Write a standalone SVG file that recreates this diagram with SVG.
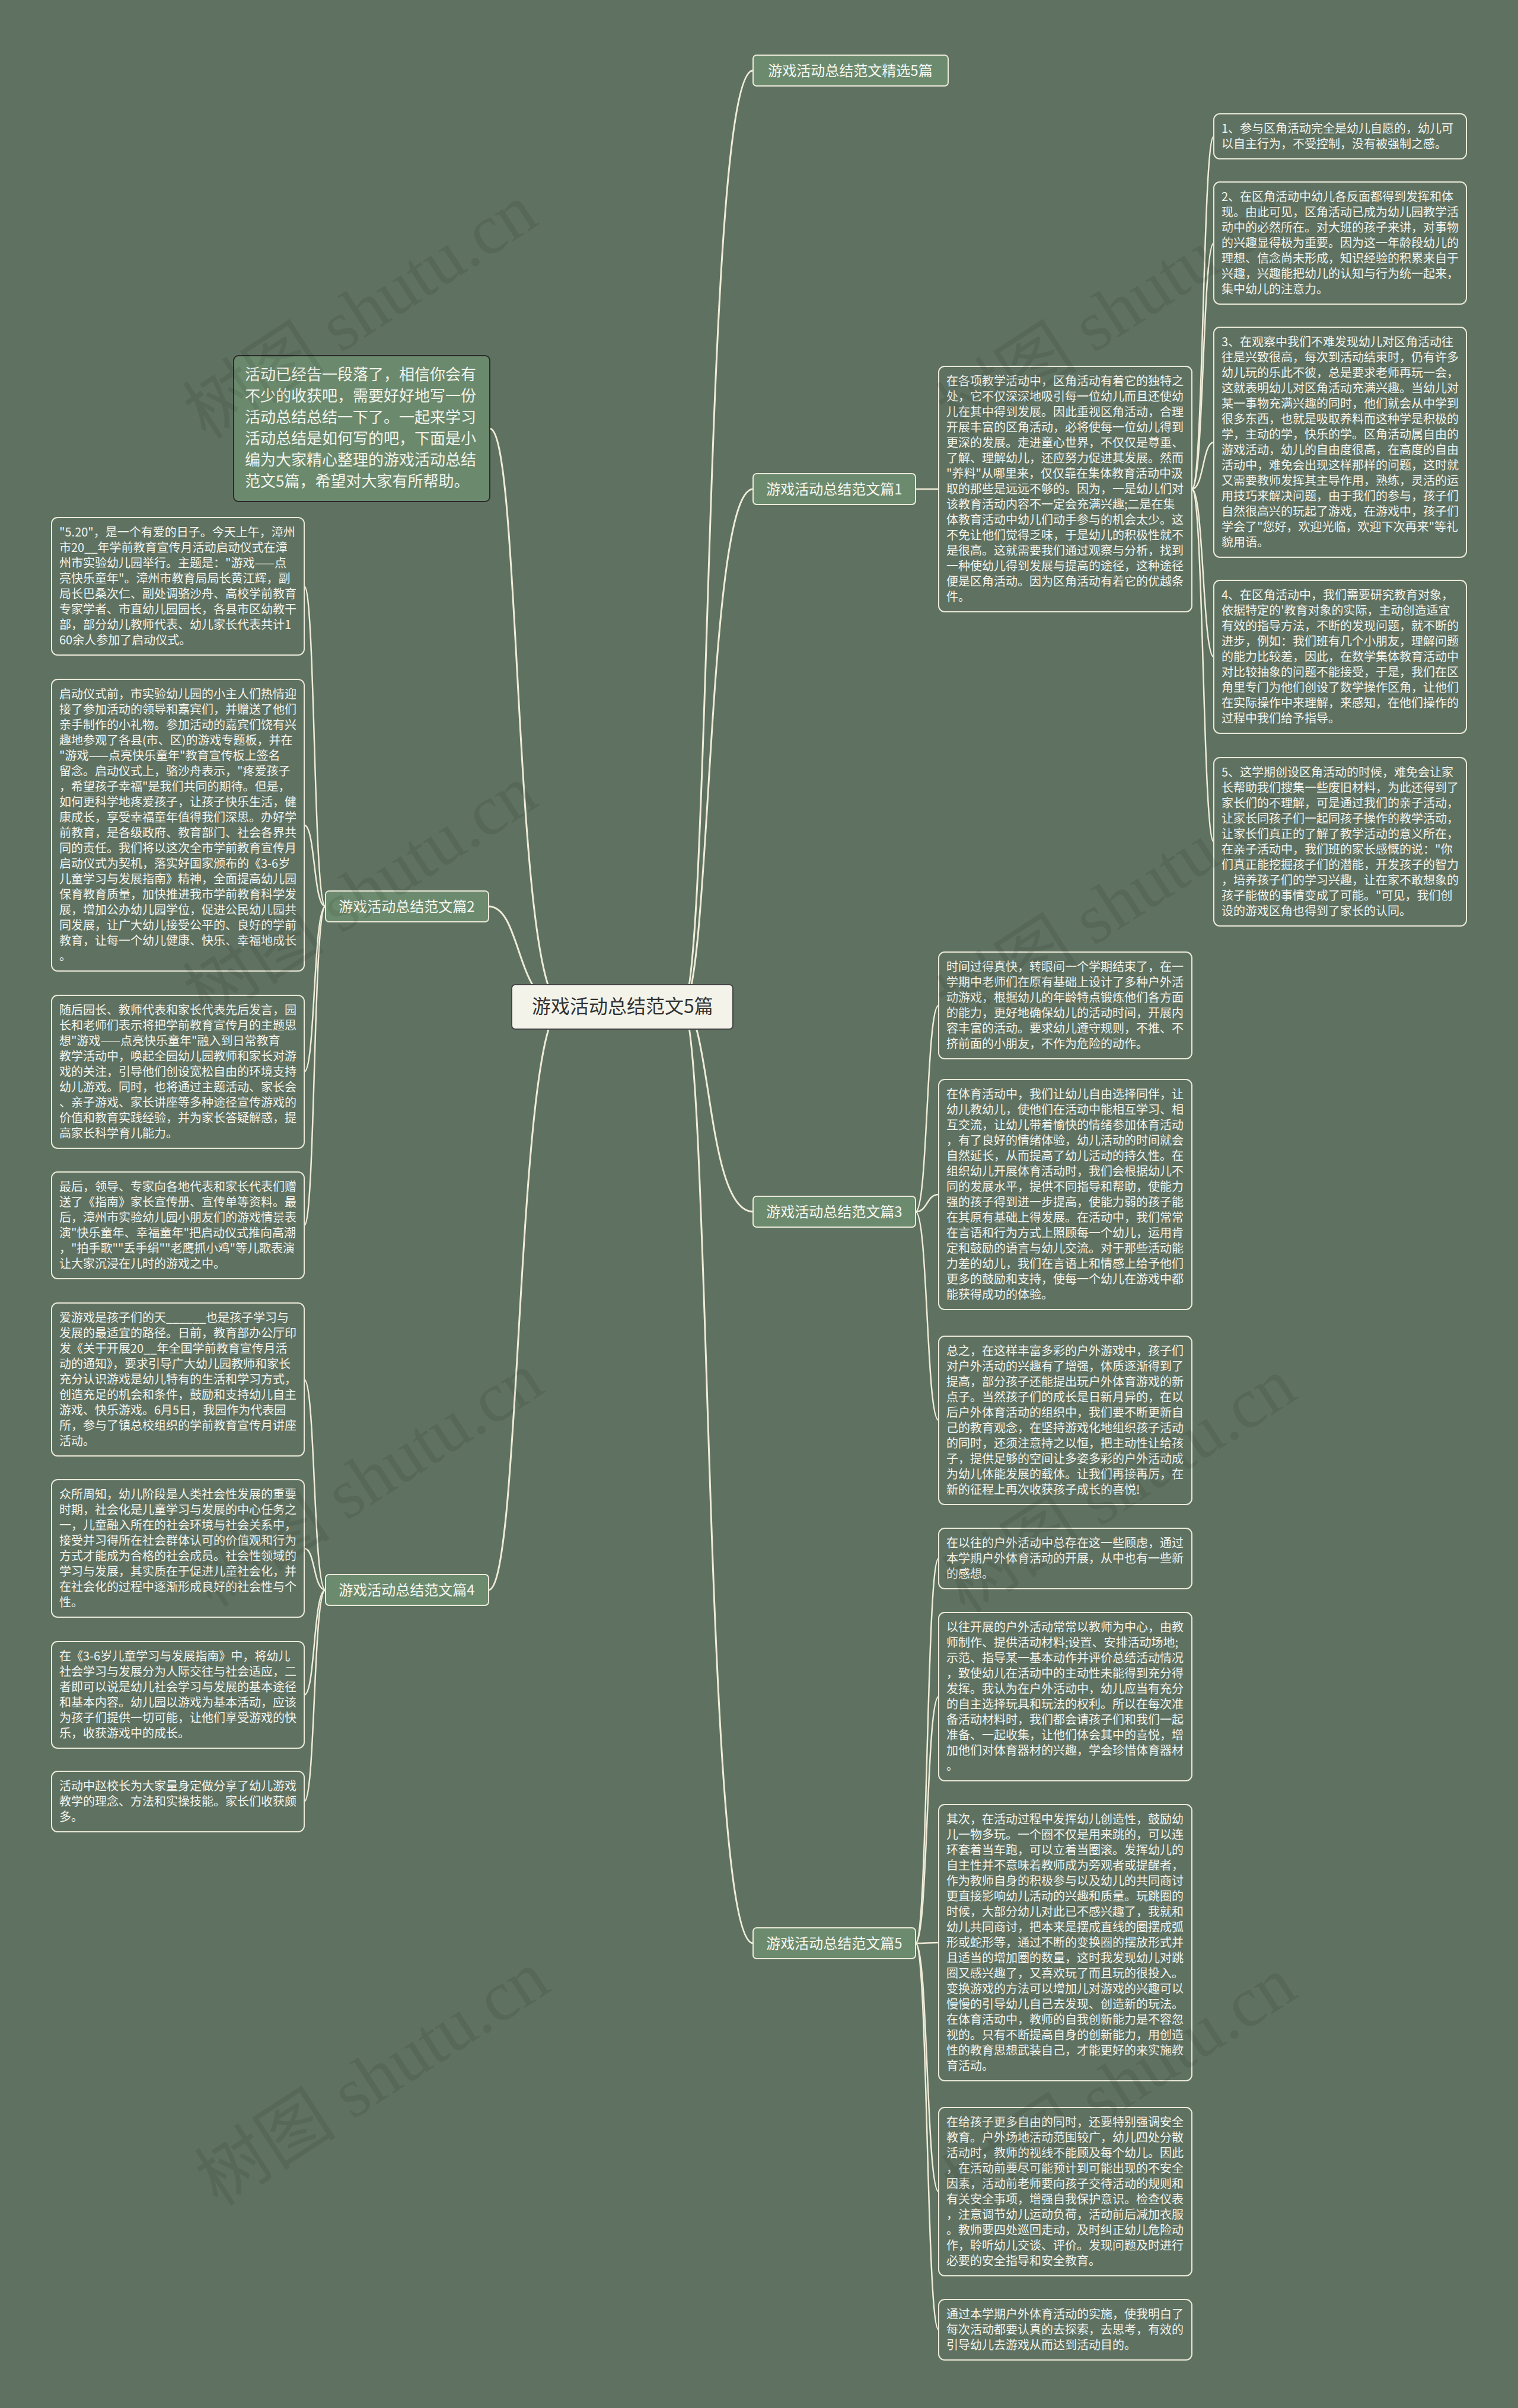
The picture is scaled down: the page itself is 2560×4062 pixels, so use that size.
<svg xmlns="http://www.w3.org/2000/svg" width="2560" height="4062" viewBox="0 0 2560 4062">
<style>
.leaf{fill:#5f7262;stroke:#ebe9d8;stroke-width:2}
.lt{font-family:'Noto Sans CJK SC','Noto Sans',sans-serif;font-size:20px;fill:#f3f3ec}
.br{fill:#6c8b6e;stroke:#ebe9d8;stroke-width:2}
.bt{font-family:'Noto Sans CJK SC','Noto Sans',sans-serif;font-size:24px;fill:#f6f6f0;text-anchor:middle}
.conn{fill:none;stroke:#efebd7;stroke-width:3;stroke-linecap:round}
.sub{fill:none;stroke:#efebd7;stroke-width:2.5;stroke-linecap:round}
.wm{font-family:'Liberation Serif','Noto Sans CJK SC',serif;font-size:120px;fill:#000;opacity:0.08}
</style>
<rect x="0" y="0" width="2560" height="4062" fill="#5f7262"/>

<g id="connectors">
<path class="conn" d="M1150,1698 C1200,1698 1185,119 1270,119"/>
<path class="conn" d="M1150,1698 C1200,1698 1190,825 1270,825"/>
<path class="conn" d="M1150,1698 C1200,1698 1190,2044 1270,2044"/>
<path class="conn" d="M1150,1698 C1200,1698 1185,3278 1270,3278"/>
<path class="conn" d="M950,1698 C865,1698 880,723 826,723"/>
<path class="conn" d="M950,1698 C870,1698 880,1529 824,1529"/>
<path class="conn" d="M950,1698 C870,1698 880,2682 824,2682"/>
<path class="sub" d="M1544,825 L1583,825"/>
<path class="sub" d="M2010,825 C2030,825 2028,230 2047,230"/>
<path class="sub" d="M2010,825 C2030,825 2028,410 2047,410"/>
<path class="sub" d="M2010,825 C2030,825 2028,746 2047,746"/>
<path class="sub" d="M2010,825 C2030,825 2028,1108 2047,1108"/>
<path class="sub" d="M2010,825 C2030,825 2028,1420 2047,1420"/>
<path class="sub" d="M1544,2044 C1565,2044 1562,1696 1583,1696"/>
<path class="sub" d="M1544,2044 C1565,2044 1562,2015 1583,2015"/>
<path class="sub" d="M1544,2044 C1565,2044 1562,2396 1583,2396"/>
<path class="sub" d="M1544,3278 C1565,3278 1562,2629 1583,2629"/>
<path class="sub" d="M1544,3278 C1565,3278 1562,2862 1583,2862"/>
<path class="sub" d="M1544,3278 C1565,3278 1562,3277 1583,3277"/>
<path class="sub" d="M1544,3278 C1565,3278 1562,3697 1583,3697"/>
<path class="sub" d="M1544,3278 C1565,3278 1562,3930 1583,3930"/>
<path class="sub" d="M549,1529 C528,1529 532,989 513,989"/>
<path class="sub" d="M549,1529 C528,1529 532,1392 513,1392"/>
<path class="sub" d="M549,1529 C528,1529 532,1808 513,1808"/>
<path class="sub" d="M549,1529 C528,1529 532,2067 513,2067"/>
<path class="sub" d="M549,2682 C528,2682 532,2327 513,2327"/>
<path class="sub" d="M549,2682 C528,2682 532,2612 513,2612"/>
<path class="sub" d="M549,2682 C528,2682 532,2859 513,2859"/>
<path class="sub" d="M549,2682 C528,2682 532,3039 513,3039"/>
</g>

<g id="root">
<rect x="863" y="1661" width="373" height="75" rx="6" fill="#f3f3ea" stroke="#444" stroke-width="2"/>
<text x="1050" y="1709" style="font-family:'Noto Sans CJK SC',sans-serif;font-size:32px;fill:#333;text-anchor:middle">游戏活动总结范文5篇</text>
</g>

<g id="b0"><rect class="br" x="1270" y="93" width="329" height="52" rx="6"/><text class="bt" x="1434" y="128">游戏活动总结范文精选5篇</text></g>
<g id="b1"><rect class="br" x="1270" y="799" width="274" height="52" rx="6"/><text class="bt" x="1407" y="834">游戏活动总结范文篇1</text></g>
<g id="b3"><rect class="br" x="1270" y="2018" width="274" height="52" rx="6"/><text class="bt" x="1407" y="2053">游戏活动总结范文篇3</text></g>
<g id="b5"><rect class="br" x="1270" y="3252" width="274" height="52" rx="6"/><text class="bt" x="1407" y="3287">游戏活动总结范文篇5</text></g>
<g id="b2"><rect class="br" x="549" y="1503" width="275" height="52" rx="6"/><text class="bt" x="686" y="1538">游戏活动总结范文篇2</text></g>
<g id="b4"><rect class="br" x="549" y="2656" width="275" height="52" rx="6"/><text class="bt" x="686" y="2691">游戏活动总结范文篇4</text></g>

<g id="intro">
<rect x="394" y="600" width="432" height="246" rx="8" fill="#6b8a6d" stroke="#2a2a2a" stroke-width="2"/>
<text class="lt" x="413" y="641" style="font-size:26px"><tspan x="413" dy="0">活动已经告一段落了，相信你会有</tspan><tspan x="413" dy="36">不少的收获吧，需要好好地写一份</tspan><tspan x="413" dy="36">活动总结总结一下了。一起来学习</tspan><tspan x="413" dy="36">活动总结是如何写的吧，下面是小</tspan><tspan x="413" dy="36">编为大家精心整理的游戏活动总结</tspan><tspan x="413" dy="36">范文5篇，希望对大家有所帮助。</tspan></text>
</g>

<g id="p1text">
<rect class="leaf" x="1583" y="618" width="427" height="414" rx="10"/>
<text class="lt" x="1596" y="650"><tspan x="1596" dy="0">在各项教学活动中，区角活动有着它的独特之</tspan><tspan x="1596" dy="26">处，它不仅深深地吸引每一位幼儿而且还使幼</tspan><tspan x="1596" dy="26">儿在其中得到发展。因此重视区角活动，合理</tspan><tspan x="1596" dy="26">开展丰富的区角活动，必将使每一位幼儿得到</tspan><tspan x="1596" dy="26">更深的发展。走进童心世界，不仅仅是尊重、</tspan><tspan x="1596" dy="26">了解、理解幼儿，还应努力促进其发展。然而</tspan><tspan x="1596" dy="26">"养料"从哪里来，仅仅靠在集体教育活动中汲</tspan><tspan x="1596" dy="26">取的那些是远远不够的。因为，一是幼儿们对</tspan><tspan x="1596" dy="26">该教育活动内容不一定会充满兴趣;二是在集</tspan><tspan x="1596" dy="26">体教育活动中幼儿们动手参与的机会太少。这</tspan><tspan x="1596" dy="26">不免让他们觉得乏味，于是幼儿的积极性就不</tspan><tspan x="1596" dy="26">是很高。这就需要我们通过观察与分析，找到</tspan><tspan x="1596" dy="26">一种使幼儿得到发展与提高的途径，这种途径</tspan><tspan x="1596" dy="26">便是区角活动。因为区角活动有着它的优越条</tspan><tspan x="1596" dy="26">件。</tspan></text>
</g>

<g id="p1n1">
<rect class="leaf" x="2047" y="192" width="426" height="76" rx="10"/>
<text class="lt" x="2060" y="224"><tspan x="2060" dy="0">1、参与区角活动完全是幼儿自愿的，幼儿可</tspan><tspan x="2060" dy="26">以自主行为，不受控制，没有被强制之感。</tspan></text>
</g>
<g id="p1n2">
<rect class="leaf" x="2047" y="307" width="426" height="206" rx="10"/>
<text class="lt" x="2060" y="339"><tspan x="2060" dy="0">2、在区角活动中幼儿各反面都得到发挥和体</tspan><tspan x="2060" dy="26">现。由此可见，区角活动已成为幼儿园教学活</tspan><tspan x="2060" dy="26">动中的必然所在。对大班的孩子来讲，对事物</tspan><tspan x="2060" dy="26">的兴趣显得极为重要。因为这一年龄段幼儿的</tspan><tspan x="2060" dy="26">理想、信念尚未形成，知识经验的积累来自于</tspan><tspan x="2060" dy="26">兴趣，兴趣能把幼儿的认知与行为统一起来，</tspan><tspan x="2060" dy="26">集中幼儿的注意力。</tspan></text>
</g>
<g id="p1n3">
<rect class="leaf" x="2047" y="552" width="426" height="388" rx="10"/>
<text class="lt" x="2060" y="584"><tspan x="2060" dy="0">3、在观察中我们不难发现幼儿对区角活动往</tspan><tspan x="2060" dy="26">往是兴致很高，每次到活动结束时，仍有许多</tspan><tspan x="2060" dy="26">幼儿玩的乐此不彼，总是要求老师再玩一会，</tspan><tspan x="2060" dy="26">这就表明幼儿对区角活动充满兴趣。当幼儿对</tspan><tspan x="2060" dy="26">某一事物充满兴趣的同时，他们就会从中学到</tspan><tspan x="2060" dy="26">很多东西，也就是吸取养料而这种学是积极的</tspan><tspan x="2060" dy="26">学，主动的学，快乐的学。区角活动属自由的</tspan><tspan x="2060" dy="26">游戏活动，幼儿的自由度很高，在高度的自由</tspan><tspan x="2060" dy="26">活动中，难免会出现这样那样的问题，这时就</tspan><tspan x="2060" dy="26">又需要教师发挥其主导作用，熟练，灵活的运</tspan><tspan x="2060" dy="26">用技巧来解决问题，由于我们的参与，孩子们</tspan><tspan x="2060" dy="26">自然很高兴的玩起了游戏，在游戏中，孩子们</tspan><tspan x="2060" dy="26">学会了"您好，欢迎光临，欢迎下次再来"等礼</tspan><tspan x="2060" dy="26">貌用语。</tspan></text>
</g>
<g id="p1n4">
<rect class="leaf" x="2047" y="979" width="426" height="258" rx="10"/>
<text class="lt" x="2060" y="1011"><tspan x="2060" dy="0">4、在区角活动中，我们需要研究教育对象，</tspan><tspan x="2060" dy="26">依据特定的'教育对象的实际，主动创造适宜</tspan><tspan x="2060" dy="26">有效的指导方法，不断的发现问题，就不断的</tspan><tspan x="2060" dy="26">进步，例如：我们班有几个小朋友，理解问题</tspan><tspan x="2060" dy="26">的能力比较差，因此，在数学集体教育活动中</tspan><tspan x="2060" dy="26">对比较抽象的问题不能接受，于是，我们在区</tspan><tspan x="2060" dy="26">角里专门为他们创设了数学操作区角，让他们</tspan><tspan x="2060" dy="26">在实际操作中来理解，来感知，在他们操作的</tspan><tspan x="2060" dy="26">过程中我们给予指导。</tspan></text>
</g>
<g id="p1n5">
<rect class="leaf" x="2047" y="1278" width="426" height="284" rx="10"/>
<text class="lt" x="2060" y="1310"><tspan x="2060" dy="0">5、这学期创设区角活动的时候，难免会让家</tspan><tspan x="2060" dy="26">长帮助我们搜集一些废旧材料，为此还得到了</tspan><tspan x="2060" dy="26">家长们的不理解，可是通过我们的亲子活动，</tspan><tspan x="2060" dy="26">让家长同孩子们一起同孩子操作的教学活动，</tspan><tspan x="2060" dy="26">让家长们真正的了解了教学活动的意义所在，</tspan><tspan x="2060" dy="26">在亲子活动中，我们班的家长感慨的说："你</tspan><tspan x="2060" dy="26">们真正能挖掘孩子们的潜能，开发孩子的智力</tspan><tspan x="2060" dy="26">，培养孩子们的学习兴趣，让在家不敢想象的</tspan><tspan x="2060" dy="26">孩子能做的事情变成了可能。"可见，我们创</tspan><tspan x="2060" dy="26">设的游戏区角也得到了家长的认同。</tspan></text>
</g>

<g id="p3a">
<rect class="leaf" x="1583" y="1606" width="427" height="180" rx="10"/>
<text class="lt" x="1596" y="1638"><tspan x="1596" dy="0">时间过得真快，转眼间一个学期结束了，在一</tspan><tspan x="1596" dy="26">学期中老师们在原有基础上设计了多种户外活</tspan><tspan x="1596" dy="26">动游戏，根据幼儿的年龄特点锻炼他们各方面</tspan><tspan x="1596" dy="26">的能力，更好地确保幼儿的活动时间，开展内</tspan><tspan x="1596" dy="26">容丰富的活动。要求幼儿遵守规则，不推、不</tspan><tspan x="1596" dy="26">挤前面的小朋友，不作为危险的动作。</tspan></text>
</g>
<g id="p3b">
<rect class="leaf" x="1583" y="1821" width="427" height="388" rx="10"/>
<text class="lt" x="1596" y="1853"><tspan x="1596" dy="0">在体育活动中，我们让幼儿自由选择同伴，让</tspan><tspan x="1596" dy="26">幼儿教幼儿，使他们在活动中能相互学习、相</tspan><tspan x="1596" dy="26">互交流，让幼儿带着愉快的情绪参加体育活动</tspan><tspan x="1596" dy="26">，有了良好的情绪体验，幼儿活动的时间就会</tspan><tspan x="1596" dy="26">自然延长，从而提高了幼儿活动的持久性。在</tspan><tspan x="1596" dy="26">组织幼儿开展体育活动时，我们会根据幼儿不</tspan><tspan x="1596" dy="26">同的发展水平，提供不同指导和帮助，使能力</tspan><tspan x="1596" dy="26">强的孩子得到进一步提高，使能力弱的孩子能</tspan><tspan x="1596" dy="26">在其原有基础上得发展。在活动中，我们常常</tspan><tspan x="1596" dy="26">在言语和行为方式上照顾每一个幼儿，运用肯</tspan><tspan x="1596" dy="26">定和鼓励的语言与幼儿交流。对于那些活动能</tspan><tspan x="1596" dy="26">力差的幼儿，我们在言语上和情感上给予他们</tspan><tspan x="1596" dy="26">更多的鼓励和支持，使每一个幼儿在游戏中都</tspan><tspan x="1596" dy="26">能获得成功的体验。</tspan></text>
</g>
<g id="p3c">
<rect class="leaf" x="1583" y="2254" width="427" height="284" rx="10"/>
<text class="lt" x="1596" y="2286"><tspan x="1596" dy="0">总之，在这样丰富多彩的户外游戏中，孩子们</tspan><tspan x="1596" dy="26">对户外活动的兴趣有了增强，体质逐渐得到了</tspan><tspan x="1596" dy="26">提高，部分孩子还能提出玩户外体育游戏的新</tspan><tspan x="1596" dy="26">点子。当然孩子们的成长是日新月异的，在以</tspan><tspan x="1596" dy="26">后户外体育活动的组织中，我们要不断更新自</tspan><tspan x="1596" dy="26">己的教育观念，在坚持游戏化地组织孩子活动</tspan><tspan x="1596" dy="26">的同时，还须注意持之以恒，把主动性让给孩</tspan><tspan x="1596" dy="26">子，提供足够的空间让多姿多彩的户外活动成</tspan><tspan x="1596" dy="26">为幼儿体能发展的载体。让我们再接再厉，在</tspan><tspan x="1596" dy="26">新的征程上再次收获孩子成长的喜悦!</tspan></text>
</g>

<g id="p5a">
<rect class="leaf" x="1583" y="2578" width="427" height="102" rx="10"/>
<text class="lt" x="1596" y="2610"><tspan x="1596" dy="0">在以往的户外活动中总存在这一些顾虑，通过</tspan><tspan x="1596" dy="26">本学期户外体育活动的开展，从中也有一些新</tspan><tspan x="1596" dy="26">的感想。</tspan></text>
</g>
<g id="p5b">
<rect class="leaf" x="1583" y="2720" width="427" height="284" rx="10"/>
<text class="lt" x="1596" y="2752"><tspan x="1596" dy="0">以往开展的户外活动常常以教师为中心，由教</tspan><tspan x="1596" dy="26">师制作、提供活动材料;设置、安排活动场地;</tspan><tspan x="1596" dy="26">示范、指导某一基本动作并评价总结活动情况</tspan><tspan x="1596" dy="26">，致使幼儿在活动中的主动性未能得到充分得</tspan><tspan x="1596" dy="26">发挥。我认为在户外活动中，幼儿应当有充分</tspan><tspan x="1596" dy="26">的自主选择玩具和玩法的权利。所以在每次准</tspan><tspan x="1596" dy="26">备活动材料时，我们都会请孩子们和我们一起</tspan><tspan x="1596" dy="26">准备、一起收集，让他们体会其中的喜悦，增</tspan><tspan x="1596" dy="26">加他们对体育器材的兴趣，学会珍惜体育器材</tspan><tspan x="1596" dy="26">。</tspan></text>
</g>
<g id="p5c">
<rect class="leaf" x="1583" y="3044" width="427" height="466" rx="10"/>
<text class="lt" x="1596" y="3076"><tspan x="1596" dy="0">其次，在活动过程中发挥幼儿创造性，鼓励幼</tspan><tspan x="1596" dy="26">儿一物多玩。一个圈不仅是用来跳的，可以连</tspan><tspan x="1596" dy="26">环套着当车跑，可以立着当圈滚。发挥幼儿的</tspan><tspan x="1596" dy="26">自主性并不意味着教师成为旁观者或提醒者，</tspan><tspan x="1596" dy="26">作为教师自身的积极参与以及幼儿的共同商讨</tspan><tspan x="1596" dy="26">更直接影响幼儿活动的兴趣和质量。玩跳圈的</tspan><tspan x="1596" dy="26">时候，大部分幼儿对此已不感兴趣了，我就和</tspan><tspan x="1596" dy="26">幼儿共同商讨，把本来是摆成直线的圈摆成弧</tspan><tspan x="1596" dy="26">形或蛇形等，通过不断的变换圈的摆放形式并</tspan><tspan x="1596" dy="26">且适当的增加圈的数量，这时我发现幼儿对跳</tspan><tspan x="1596" dy="26">圈又感兴趣了，又喜欢玩了而且玩的很投入。</tspan><tspan x="1596" dy="26">变换游戏的方法可以增加儿对游戏的兴趣可以</tspan><tspan x="1596" dy="26">慢慢的引导幼儿自己去发现、创造新的玩法。</tspan><tspan x="1596" dy="26">在体育活动中，教师的自我创新能力是不容忽</tspan><tspan x="1596" dy="26">视的。只有不断提高自身的创新能力，用创造</tspan><tspan x="1596" dy="26">性的教育思想武装自己，才能更好的来实施教</tspan><tspan x="1596" dy="26">育活动。</tspan></text>
</g>
<g id="p5d">
<rect class="leaf" x="1583" y="3555" width="427" height="284" rx="10"/>
<text class="lt" x="1596" y="3587"><tspan x="1596" dy="0">在给孩子更多自由的同时，还要特别强调安全</tspan><tspan x="1596" dy="26">教育。户外场地活动范围较广，幼儿四处分散</tspan><tspan x="1596" dy="26">活动时，教师的视线不能顾及每个幼儿。因此</tspan><tspan x="1596" dy="26">，在活动前要尽可能预计到可能出现的不安全</tspan><tspan x="1596" dy="26">因素，活动前老师要向孩子交待活动的规则和</tspan><tspan x="1596" dy="26">有关安全事项，增强自我保护意识。检查仪表</tspan><tspan x="1596" dy="26">，注意调节幼儿运动负荷，活动前后减加衣服</tspan><tspan x="1596" dy="26">。教师要四处巡回走动，及时纠正幼儿危险动</tspan><tspan x="1596" dy="26">作，聆听幼儿交谈、评价。发现问题及时进行</tspan><tspan x="1596" dy="26">必要的安全指导和安全教育。</tspan></text>
</g>
<g id="p5e">
<rect class="leaf" x="1583" y="3879" width="427" height="102" rx="10"/>
<text class="lt" x="1596" y="3911"><tspan x="1596" dy="0">通过本学期户外体育活动的实施，使我明白了</tspan><tspan x="1596" dy="26">每次活动都要认真的去探索，去思考，有效的</tspan><tspan x="1596" dy="26">引导幼儿去游戏从而达到活动目的。</tspan></text>
</g>

<g id="p2a">
<rect class="leaf" x="87" y="873" width="426" height="232" rx="10"/>
<text class="lt" x="100" y="905"><tspan x="100" dy="0">"5.20"，是一个有爱的日子。今天上午，漳州</tspan><tspan x="100" dy="26">市20__年学前教育宣传月活动启动仪式在漳</tspan><tspan x="100" dy="26">州市实验幼儿园举行。主题是："游戏——点</tspan><tspan x="100" dy="26">亮快乐童年"。漳州市教育局局长黄江辉，副</tspan><tspan x="100" dy="26">局长巴桑次仁、副处调骆沙舟、高校学前教育</tspan><tspan x="100" dy="26">专家学者、市直幼儿园园长，各县市区幼教干</tspan><tspan x="100" dy="26">部，部分幼儿教师代表、幼儿家长代表共计1</tspan><tspan x="100" dy="26">60余人参加了启动仪式。</tspan></text>
</g>
<g id="p2b">
<rect class="leaf" x="87" y="1146" width="426" height="492" rx="10"/>
<text class="lt" x="100" y="1178"><tspan x="100" dy="0">启动仪式前，市实验幼儿园的小主人们热情迎</tspan><tspan x="100" dy="26">接了参加活动的领导和嘉宾们，并赠送了他们</tspan><tspan x="100" dy="26">亲手制作的小礼物。参加活动的嘉宾们饶有兴</tspan><tspan x="100" dy="26">趣地参观了各县(市、区)的游戏专题板，并在</tspan><tspan x="100" dy="26">"游戏——点亮快乐童年"教育宣传板上签名</tspan><tspan x="100" dy="26">留念。启动仪式上，骆沙舟表示，"疼爱孩子</tspan><tspan x="100" dy="26">，希望孩子幸福"是我们共同的期待。但是，</tspan><tspan x="100" dy="26">如何更科学地疼爱孩子，让孩子快乐生活，健</tspan><tspan x="100" dy="26">康成长，享受幸福童年值得我们深思。办好学</tspan><tspan x="100" dy="26">前教育，是各级政府、教育部门、社会各界共</tspan><tspan x="100" dy="26">同的责任。我们将以这次全市学前教育宣传月</tspan><tspan x="100" dy="26">启动仪式为契机，落实好国家颁布的《3-6岁</tspan><tspan x="100" dy="26">儿童学习与发展指南》精神，全面提高幼儿园</tspan><tspan x="100" dy="26">保育教育质量，加快推进我市学前教育科学发</tspan><tspan x="100" dy="26">展，增加公办幼儿园学位，促进公民幼儿园共</tspan><tspan x="100" dy="26">同发展，让广大幼儿接受公平的、良好的学前</tspan><tspan x="100" dy="26">教育，让每一个幼儿健康、快乐、幸福地成长</tspan><tspan x="100" dy="26">。</tspan></text>
</g>
<g id="p2c">
<rect class="leaf" x="87" y="1679" width="426" height="258" rx="10"/>
<text class="lt" x="100" y="1711"><tspan x="100" dy="0">随后园长、教师代表和家长代表先后发言，园</tspan><tspan x="100" dy="26">长和老师们表示将把学前教育宣传月的主题思</tspan><tspan x="100" dy="26">想"游戏——点亮快乐童年"融入到日常教育</tspan><tspan x="100" dy="26">教学活动中，唤起全园幼儿园教师和家长对游</tspan><tspan x="100" dy="26">戏的关注，引导他们创设宽松自由的环境支持</tspan><tspan x="100" dy="26">幼儿游戏。同时，也将通过主题活动、家长会</tspan><tspan x="100" dy="26">、亲子游戏、家长讲座等多种途径宣传游戏的</tspan><tspan x="100" dy="26">价值和教育实践经验，并为家长答疑解惑，提</tspan><tspan x="100" dy="26">高家长科学育儿能力。</tspan></text>
</g>
<g id="p2d">
<rect class="leaf" x="87" y="1977" width="426" height="180" rx="10"/>
<text class="lt" x="100" y="2009"><tspan x="100" dy="0">最后，领导、专家向各地代表和家长代表们赠</tspan><tspan x="100" dy="26">送了《指南》家长宣传册、宣传单等资料。最</tspan><tspan x="100" dy="26">后，漳州市实验幼儿园小朋友们的游戏情景表</tspan><tspan x="100" dy="26">演"快乐童年、幸福童年"把启动仪式推向高潮</tspan><tspan x="100" dy="26">，"拍手歌""丢手绢""老鹰抓小鸡"等儿歌表演</tspan><tspan x="100" dy="26">让大家沉浸在儿时的游戏之中。</tspan></text>
</g>

<g id="p4a">
<rect class="leaf" x="87" y="2198" width="426" height="258" rx="10"/>
<text class="lt" x="100" y="2230"><tspan x="100" dy="0">爱游戏是孩子们的天______也是孩子学习与</tspan><tspan x="100" dy="26">发展的最适宜的路径。日前，教育部办公厅印</tspan><tspan x="100" dy="26">发《关于开展20__年全国学前教育宣传月活</tspan><tspan x="100" dy="26">动的通知》，要求引导广大幼儿园教师和家长</tspan><tspan x="100" dy="26">充分认识游戏是幼儿特有的生活和学习方式，</tspan><tspan x="100" dy="26">创造充足的机会和条件，鼓励和支持幼儿自主</tspan><tspan x="100" dy="26">游戏、快乐游戏。6月5日，我园作为代表园</tspan><tspan x="100" dy="26">所，参与了镇总校组织的学前教育宣传月讲座</tspan><tspan x="100" dy="26">活动。</tspan></text>
</g>
<g id="p4b">
<rect class="leaf" x="87" y="2496" width="426" height="232" rx="10"/>
<text class="lt" x="100" y="2528"><tspan x="100" dy="0">众所周知，幼儿阶段是人类社会性发展的重要</tspan><tspan x="100" dy="26">时期，社会化是儿童学习与发展的中心任务之</tspan><tspan x="100" dy="26">一，儿童融入所在的社会环境与社会关系中，</tspan><tspan x="100" dy="26">接受并习得所在社会群体认可的价值观和行为</tspan><tspan x="100" dy="26">方式才能成为合格的社会成员。社会性领域的</tspan><tspan x="100" dy="26">学习与发展，其实质在于促进儿童社会化，并</tspan><tspan x="100" dy="26">在社会化的过程中逐渐形成良好的社会性与个</tspan><tspan x="100" dy="26">性。</tspan></text>
</g>
<g id="p4c">
<rect class="leaf" x="87" y="2769" width="426" height="180" rx="10"/>
<text class="lt" x="100" y="2801"><tspan x="100" dy="0">在《3-6岁儿童学习与发展指南》中，将幼儿</tspan><tspan x="100" dy="26">社会学习与发展分为人际交往与社会适应，二</tspan><tspan x="100" dy="26">者即可以说是幼儿社会学习与发展的基本途径</tspan><tspan x="100" dy="26">和基本内容。幼儿园以游戏为基本活动，应该</tspan><tspan x="100" dy="26">为孩子们提供一切可能，让他们享受游戏的快</tspan><tspan x="100" dy="26">乐，收获游戏中的成长。</tspan></text>
</g>
<g id="p4d">
<rect class="leaf" x="87" y="2988" width="426" height="102" rx="10"/>
<text class="lt" x="100" y="3020"><tspan x="100" dy="0">活动中赵校长为大家量身定做分享了幼儿游戏</tspan><tspan x="100" dy="26">教学的理念、方法和实操技能。家长们收获颇</tspan><tspan x="100" dy="26">多。</tspan></text>
</g>

<g id="watermarks">
<text class="wm" transform="translate(630,560) rotate(-33)" text-anchor="middle">树图 shutu.cn</text>
<text class="wm" transform="translate(1900,560) rotate(-33)" text-anchor="middle">树图 shutu.cn</text>
<text class="wm" transform="translate(630,1540) rotate(-33)" text-anchor="middle">树图 shutu.cn</text>
<text class="wm" transform="translate(1900,1560) rotate(-33)" text-anchor="middle">树图 shutu.cn</text>
<text class="wm" transform="translate(640,2530) rotate(-33)" text-anchor="middle">树图 shutu.cn</text>
<text class="wm" transform="translate(1910,2540) rotate(-33)" text-anchor="middle">树图 shutu.cn</text>
<text class="wm" transform="translate(650,3540) rotate(-33)" text-anchor="middle">树图 shutu.cn</text>
<text class="wm" transform="translate(1910,3550) rotate(-33)" text-anchor="middle">树图 shutu.cn</text>
</g>
</svg>
